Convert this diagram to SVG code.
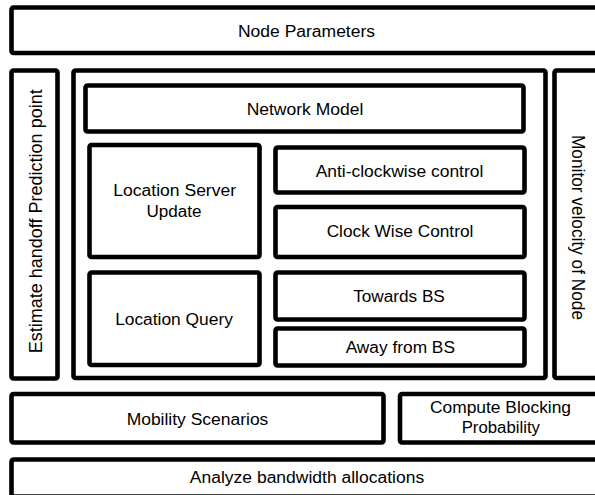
<svg xmlns="http://www.w3.org/2000/svg" width="595" height="495" viewBox="0 0 595 495">
<style>
.box{fill:#fff;stroke:#000;stroke-width:4.6}
.t{font-family:"Liberation Sans",Arial,sans-serif;font-size:16px;fill:#000;text-anchor:middle}
.v{font-family:"Liberation Sans",Arial,sans-serif;fill:#000;text-anchor:middle}
</style>
<rect x="0" y="0" width="595" height="495" fill="#fff"/>
<g id="node-parameters">
<rect class="box" x="11.5" y="7.5" width="592" height="45.5" rx="2"/>
<text class="t" x="306.5" y="37" textLength="137" lengthAdjust="spacingAndGlyphs">Node Parameters</text>
</g>
<g id="estimate-handoff">
<rect class="box" x="11.5" y="70.5" width="46" height="308" rx="2"/>
<text class="v" font-size="19" transform="translate(41.5,221.3) rotate(-90)" textLength="264" lengthAdjust="spacingAndGlyphs">Estimate handoff Prediction point</text>
</g>
<g id="main-block">
<rect class="box" x="73.5" y="70.5" width="472" height="307.5" rx="2"/>
</g>
<g id="monitor-velocity">
<rect class="box" x="554.5" y="70.5" width="50" height="307.5" rx="2"/>
<text class="v" font-size="18" transform="translate(571.5,227.5) rotate(90)" textLength="185" lengthAdjust="spacingAndGlyphs">Monitor velocity of Node</text>
</g>
<g id="network-model">
<rect class="box" x="85.5" y="85.5" width="438" height="46" rx="2"/>
<text class="t" x="305" y="115" textLength="116.7" lengthAdjust="spacingAndGlyphs">Network Model</text>
</g>
<g id="location-server-update">
<rect class="box" x="89.5" y="145" width="170" height="112" rx="2"/>
<text class="t" x="174.7" y="196" textLength="122.7" lengthAdjust="spacingAndGlyphs">Location Server</text>
<text class="t" x="174" y="216.5" textLength="55" lengthAdjust="spacingAndGlyphs">Update</text>
</g>
<g id="anti-clockwise">
<rect class="box" x="275.5" y="147.5" width="249" height="45" rx="2"/>
<text class="t" x="399.5" y="177.3" textLength="167.7" lengthAdjust="spacingAndGlyphs">Anti-clockwise control</text>
</g>
<g id="clockwise">
<rect class="box" x="275.5" y="207" width="249" height="50" rx="2"/>
<text class="t" x="400" y="237.3" textLength="146.7" lengthAdjust="spacingAndGlyphs">Clock Wise Control</text>
</g>
<g id="location-query">
<rect class="box" x="89.5" y="272.5" width="170" height="92.5" rx="2"/>
<text class="t" x="174" y="325" textLength="117.7" lengthAdjust="spacingAndGlyphs">Location Query</text>
</g>
<g id="towards-bs">
<rect class="box" x="275.5" y="272.5" width="249" height="47" rx="2"/>
<text class="t" x="399" y="301.7" textLength="91.7" lengthAdjust="spacingAndGlyphs">Towards BS</text>
</g>
<g id="away-from-bs">
<rect class="box" x="275.5" y="328.5" width="249" height="37" rx="2"/>
<text class="t" x="400.3" y="353.3" textLength="109.3" lengthAdjust="spacingAndGlyphs">Away from BS</text>
</g>
<g id="mobility-scenarios">
<rect class="box" x="11.5" y="394" width="372" height="48.5" rx="2"/>
<text class="t" x="197.5" y="425" textLength="141.7" lengthAdjust="spacingAndGlyphs">Mobility Scenarios</text>
</g>
<g id="compute-blocking">
<rect class="box" x="400" y="394" width="204" height="48.5" rx="2"/>
<text class="t" x="500.5" y="412.5" textLength="141" lengthAdjust="spacingAndGlyphs">Compute Blocking</text>
<text class="t" x="500.8" y="433.3" textLength="78.3" lengthAdjust="spacingAndGlyphs">Probability</text>
</g>
<g id="analyze-bandwidth">
<rect class="box" x="11.5" y="459.5" width="592" height="37" rx="2"/>
<text class="t" x="307" y="483.3" textLength="234.3" lengthAdjust="spacingAndGlyphs">Analyze bandwidth allocations</text>
</g>
<g id="connectors"/>
</svg>
